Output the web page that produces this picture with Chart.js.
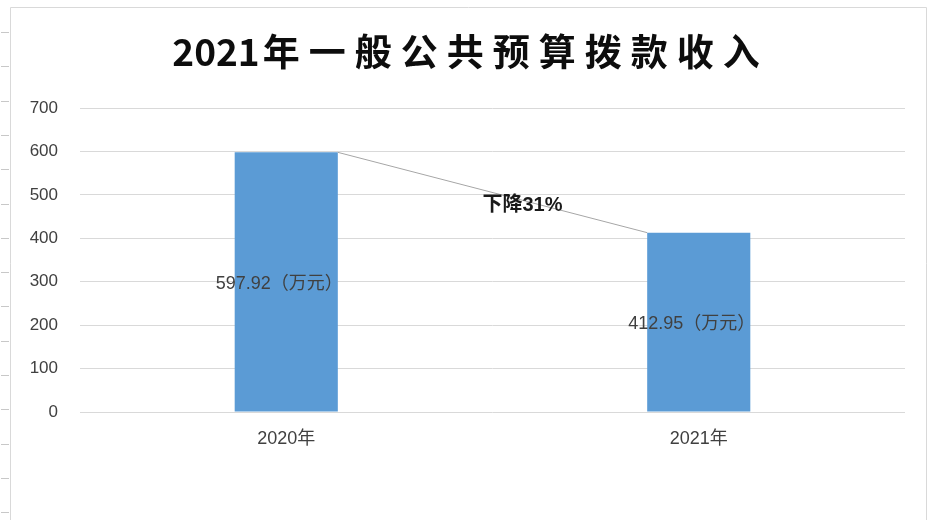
<!DOCTYPE html>
<html>
<head>
<meta charset="utf-8">
<script src="https://cdn.jsdelivr.net/npm/chart.js@4.4.2/dist/chart.umd.min.js"></script>
<style>
  html, body { margin: 0; padding: 0; background: #fff; }
  canvas { display: block; }
</style>
</head>
<body>
<canvas id="chart" width="928" height="520"></canvas>
<script>
const titleYear = '2021';
const titleText = '年一般公共预算拨款收入';
const categories = ['2020年', '2021年'];
const values = [597.92, 412.95];
const valueLabels = ['597.92（万元）', '412.95（万元）'];
const changeLabel = '下降31%';
const yTicks = [0, 100, 200, 300, 400, 500, 600, 700];

const CJK = '"Liberation Sans", "Noto Sans CJK SC", sans-serif';

// frame of the sheet + row ticks on the left edge, and the spaced-out title
const framePlugin = {
  id: 'frame',
  beforeDraw(chart) {
    const ctx = chart.ctx;
    ctx.save();
    ctx.strokeStyle = '#d9d9d9';
    ctx.lineWidth = 1;
    ctx.beginPath();
    ctx.moveTo(10.5, 520);
    ctx.lineTo(10.5, 7.5);
    ctx.lineTo(926.5, 7.5);
    ctx.lineTo(926.5, 520);
    ctx.stroke();
    ctx.strokeStyle = '#c8c8c8';
    for (let y = 32; y < 520; y += 34.3) {
      ctx.beginPath();
      ctx.moveTo(1, Math.round(y) + 0.5);
      ctx.lineTo(9, Math.round(y) + 0.5);
      ctx.stroke();
    }

    // title: digits tight, CJK characters slightly spaced
    ctx.fillStyle = '#0d0d0d';
    ctx.textBaseline = 'middle';
    ctx.textAlign = 'left';
    ctx.font = 'bold 37px "Noto Sans CJK SC", sans-serif';
    const spacing = 9;
    const w1 = ctx.measureText(titleYear).width;
    ctx.letterSpacing = spacing + 'px';
    const w2 = ctx.measureText(titleText).width - spacing;
    const start = 466 - (w1 + 3 + w2) / 2;
    ctx.letterSpacing = '0px';
    ctx.fillText(titleYear, start, 52);
    ctx.letterSpacing = spacing + 'px';
    ctx.fillText(titleText, start + w1 + 3, 52);
    ctx.letterSpacing = '0px';
    ctx.restore();
  }
};

// data labels, connector line and change note
const labelPlugin = {
  id: 'labels',
  afterDatasetsDraw(chart) {
    const ctx = chart.ctx;
    const bars = chart.getDatasetMeta(0).data;
    const y = chart.scales.y;
    ctx.save();

    // connector from top-right of first bar to top-left of second
    const a = bars[0], b = bars[1];
    ctx.strokeStyle = '#a6a6a6';
    ctx.lineWidth = 1;
    ctx.beginPath();
    ctx.moveTo(a.x + a.width / 2, a.y);
    ctx.lineTo(b.x - b.width / 2, b.y);
    ctx.stroke();

    ctx.font = '18px ' + CJK;
    ctx.fillStyle = '#404040';
    ctx.textAlign = 'center';
    ctx.textBaseline = 'middle';
    bars.forEach((bar, i) => {
      const mid = y.getPixelForValue(values[i] / 2);
      ctx.fillText(valueLabels[i], bar.x - 7, mid + 2);
    });

    const mx = (a.x + a.width / 2 + b.x - b.width / 2) / 2;
    const my = (a.y + b.y) / 2;
    ctx.font = 'bold 20px ' + CJK;
    ctx.fillStyle = '#1a1a1a';
    ctx.fillText(changeLabel, mx + 30, my + 13);
    ctx.restore();
  }
};

new Chart(document.getElementById('chart'), {
  type: 'bar',
  data: {
    labels: categories,
    datasets: [{
      data: values,
      backgroundColor: '#5b9bd5',
      barPercentage: 0.25,
      categoryPercentage: 1
    }]
  },
  options: {
    responsive: false,
    animation: false,
    layout: {
      padding: { left: 0, right: 23, top: 108, bottom: 0 }
    },
    plugins: {
      legend: { display: false },
      tooltip: { enabled: false },
      title: { display: false }
    },
    scales: {
      x: {
        grid: { display: false, drawTicks: false },
        border: { display: false },
        ticks: {
          color: '#404040',
          font: { family: CJK, size: 18 },
          padding: 16
        },
        afterFit(scale) { scale.height = 108; }
      },
      y: {
        min: 0,
        max: 700,
        afterBuildTicks(scale) {
          scale.ticks = yTicks.map(v => ({ value: v }));
        },
        grid: { color: '#d9d9d9', drawTicks: false },
        border: { display: false },
        ticks: {
          color: '#404040',
          font: { family: CJK, size: 17 },
          padding: 22
        },
        afterFit(scale) { scale.width = 80; }
      }
    }
  },
  plugins: [framePlugin, labelPlugin]
});
</script>
</body>
</html>
